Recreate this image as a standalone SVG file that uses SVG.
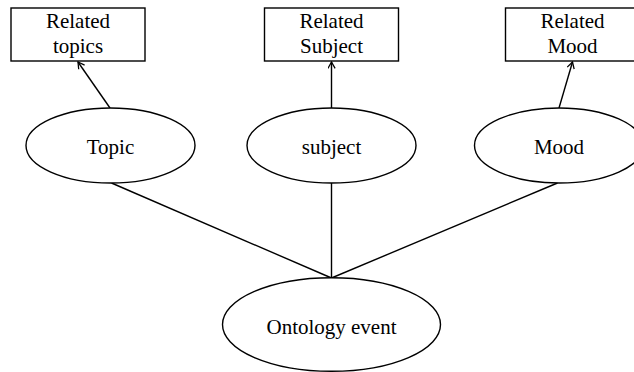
<svg xmlns="http://www.w3.org/2000/svg" width="634" height="372" viewBox="0 0 634 372">
  <style>
    .box { fill: #fff; stroke: #000; stroke-width: 1.4; }
    .oval { fill: #fff; stroke: #000; stroke-width: 1.4; }
    .label { font-family: "Liberation Serif", "Times New Roman", serif; font-size: 21px; fill: #000; text-anchor: middle; }
    .edge { fill: none; stroke: #000; stroke-width: 1.4; }
  </style>
  <defs>
    <marker id="openArrow" viewBox="0 0 10 10" refX="9" refY="5" markerWidth="8" markerHeight="8" markerUnits="userSpaceOnUse" orient="auto">
      <path d="M1,0.5 L9,5 L1,9.5" fill="none" stroke="#000" stroke-width="1.6"/>
    </marker>
  </defs>
  <rect width="634" height="372" fill="#fff"/>

  <!-- connectors -->
  <g id="connectors">
    <line class="edge" x1="110" y1="108" x2="78" y2="62" marker-end="url(#openArrow)"/>
    <line class="edge" x1="331.5" y1="108" x2="331.5" y2="62" marker-end="url(#openArrow)"/>
    <line class="edge" x1="559" y1="108" x2="572.5" y2="62" marker-end="url(#openArrow)"/>
    <line class="edge" x1="111.5" y1="183" x2="331.5" y2="278"/>
    <line class="edge" x1="331.5" y1="183" x2="331.5" y2="278"/>
    <line class="edge" x1="557.5" y1="183" x2="331.5" y2="278"/>
  </g>

  <g id="related-topics">
    <rect class="box" x="11" y="8" width="134" height="53"/>
    <text class="label" x="78" y="28">Related</text>
    <text class="label" x="78" y="53">topics</text>
  </g>
  <g id="related-subject">
    <rect class="box" x="264.5" y="8" width="134" height="53"/>
    <text class="label" x="331.5" y="28">Related</text>
    <text class="label" x="331.5" y="53">Subject</text>
  </g>
  <g id="related-mood">
    <rect class="box" x="505.5" y="8" width="134" height="53"/>
    <text class="label" x="572.5" y="28">Related</text>
    <text class="label" x="572.5" y="53">Mood</text>
  </g>

  <g id="topic">
    <ellipse class="oval" cx="110.5" cy="145.5" rx="84.5" ry="37.5"/>
    <text class="label" x="110.5" y="154">Topic</text>
  </g>
  <g id="subject">
    <ellipse class="oval" cx="331.5" cy="145.5" rx="84.5" ry="37.5"/>
    <text class="label" x="331.5" y="154">subject</text>
  </g>
  <g id="mood">
    <ellipse class="oval" cx="559" cy="145.5" rx="84.5" ry="37.5"/>
    <text class="label" x="559" y="154">Mood</text>
  </g>

  <g id="ontology-event">
    <ellipse class="oval" cx="331.5" cy="324.5" rx="109" ry="46.8"/>
    <text class="label" x="331.5" y="334">Ontology event</text>
  </g>
</svg>
